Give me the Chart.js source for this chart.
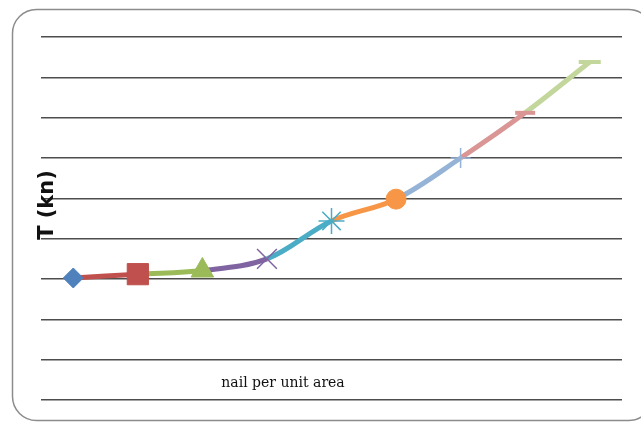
<!DOCTYPE html>
<html>
<head>
<meta charset="utf-8">
<script src="https://cdn.jsdelivr.net/npm/chart.js@4"></script>
<style>
  html, body { margin: 0; padding: 0; background: #ffffff; }
  #wrap { position: relative; width: 641px; height: 423px; }
</style>
</head>
<body>
<div id="wrap"><canvas id="chart" width="641" height="423"></canvas></div>
<script>
// Nail density steps and the tension measured at each one
const categories = ['1', '2', '3', '4', '5', '6', '7', '8', '9'];
const tension = [6.05, 6.24, 6.42, 7.0, 8.88, 9.96, 12.0, 14.24, 16.76];

// One marker per step, each in its own colour
const markerStyles = ['rectRot', 'rect', 'triangle', 'crossRot', 'star', 'circle', 'cross', 'line', 'line'];
const markerSizes = [10, 15, 13, 14, 13, 10, 10, 10, 11];
const markerColors = ['#4F81BD', '#C0504D', '#9BBB59', '#8064A2', '#4BACC6', '#F79646', '#95B3D7', '#D99694', '#C3D69B'];
const markerWidths = [1, 1, 1, 1.5, 1.5, 1, 1.5, 4, 4];

const yTitle = 'T (kn)';
const xTitle = 'nail per unit area';

// Frame, and the two titles drawn over the plot
const decor = {
  id: 'decor',
  beforeDraw(chart) {
    const c = chart.ctx;
    c.save();
    c.strokeStyle = '#8c8c8c';
    c.lineWidth = 1.5;
    c.beginPath();
    c.roundRect(12.5, 9.5, 640, 411, 24);
    c.stroke();
    c.restore();
  },
  afterDatasetsDraw(chart) {
    const c = chart.ctx;
    c.save();
    c.fillStyle = '#111111';
    c.font = 'bold 21px "DejaVu Sans"';
    c.textAlign = 'center';
    c.textBaseline = 'middle';
    c.translate(48, 205);
    c.rotate(-Math.PI / 2);
    c.fillText(yTitle, 0, 0);
    c.restore();

    c.save();
    c.fillStyle = '#111111';
    c.font = '14px "DejaVu Serif"';
    c.textAlign = 'center';
    c.textBaseline = 'alphabetic';
    c.fillText(xTitle, 283, 387);
    c.restore();
  }
};

new Chart(document.getElementById('chart'), {
  type: 'line',
  data: {
    labels: categories,
    datasets: [{
      data: tension,
      borderWidth: 5,
      tension: 0.35,
      borderColor: markerColors[1],
      segment: {
        borderColor: ctx => markerColors[ctx.p1DataIndex]
      },
      pointStyle: markerStyles,
      pointRadius: markerSizes,
      pointHoverRadius: markerSizes,
      pointBackgroundColor: markerColors,
      pointBorderColor: markerColors,
      pointBorderWidth: markerWidths,
      clip: false
    }]
  },
  options: {
    responsive: false,
    animation: false,
    layout: { padding: { left: 41, right: 19, top: 37, bottom: 23 } },
    plugins: { legend: { display: false }, tooltip: { enabled: false } },
    scales: {
      x: {
        display: false,
        offset: true
      },
      y: {
        min: 0,
        max: 18,
        ticks: { display: false, stepSize: 2 },
        border: { display: false },
        grid: { color: '#4d4d4d', lineWidth: 1.5, drawTicks: false }
      }
    }
  },
  plugins: [decor]
});
</script>
</body>
</html>
